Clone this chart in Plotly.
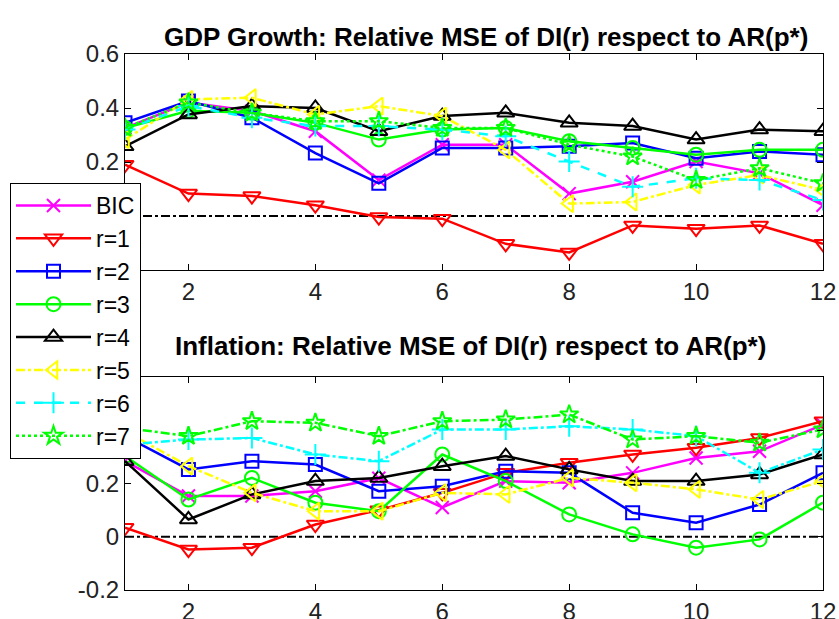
import plotly.graph_objects as go

horizons = list(range(1, 13))
names = ["BIC", "r=1", "r=2", "r=3", "r=4", "r=5", "r=6", "r=7"]

# GDP growth: relative MSE
gdp_bic = [0.326, 0.42, 0.389, 0.314, 0.133, 0.264, 0.264, 0.083, 0.127, 0.202, 0.158, 0.04]
gdp_r1 = [0.19, 0.083, 0.074, 0.04, -0.004, -0.01, -0.103, -0.135, -0.035, -0.047, -0.035, -0.103]
gdp_r2 = [0.345, 0.426, 0.364, 0.233, 0.121, 0.252, 0.252, 0.258, 0.27, 0.214, 0.239, 0.227]
gdp_r3 = [0.326, 0.39, 0.382, 0.345, 0.283, 0.32, 0.326, 0.277, 0.252, 0.227, 0.245, 0.245]
gdp_r4 = [0.258, 0.376, 0.407, 0.40, 0.314, 0.37, 0.382, 0.345, 0.333, 0.283, 0.32, 0.314]
gdp_r5 = [0.283, 0.432, 0.438, 0.376, 0.407, 0.37, 0.245, 0.046, 0.052, 0.115, 0.152, 0.096]
gdp_r6 = [0.32, 0.407, 0.364, 0.333, 0.333, 0.32, 0.295, 0.202, 0.108, 0.14, 0.133, 0.059]
gdp_r7 = [0.326, 0.42, 0.382, 0.351, 0.351, 0.326, 0.326, 0.264, 0.22, 0.133, 0.177, 0.121]

# Inflation: relative MSE
inf_bic = [0.284, 0.153, 0.153, 0.171, 0.22, 0.11, 0.209, 0.203, 0.24, 0.296, 0.321, 0.421]
inf_r1 = [0.034, -0.048, -0.041, 0.046, 0.1, 0.165, 0.24, 0.278, 0.309, 0.334, 0.371, 0.434]
inf_r2 = [0.378, 0.253, 0.284, 0.271, 0.171, 0.19, 0.246, 0.24, 0.09, 0.053, 0.121, 0.24]
inf_r3 = [0.303, 0.14, 0.221, 0.128, 0.096, 0.309, 0.209, 0.084, 0.009, -0.041, -0.01, 0.128]
inf_r4 = [0.284, 0.065, 0.159, 0.209, 0.221, 0.265, 0.303, 0.253, 0.209, 0.209, 0.234, 0.309]
inf_r5 = [0.397, 0.265, 0.165, 0.096, 0.096, 0.165, 0.159, 0.221, 0.203, 0.178, 0.14, 0.209]
inf_r6 = [0.346, 0.365, 0.371, 0.309, 0.284, 0.403, 0.403, 0.415, 0.403, 0.378, 0.24, 0.328]
inf_r7 = [0.409, 0.378, 0.434, 0.428, 0.378, 0.434, 0.44, 0.459, 0.365, 0.378, 0.353, 0.403]

y_ticks = [-0.2, 0, 0.2, 0.4, 0.6]
y_ticklabels = ["-0.2", "0", "0.2", "0.4", "0.6"]
x_ticks = [2, 4, 6, 8, 10, 12]

title_top = "GDP Growth: Relative MSE of DI(r) respect to AR(p*)"
title_bot = "Inflation: Relative MSE of DI(r) respect to AR(p*)"

colors = ["#FF00FF", "#FF0000", "#0000FF", "#00FF00", "#000000", "#FFFF00", "#00FFFF", "#00FF00"]
symbols = ["x-thin", "triangle-down-open", "square-open", "circle-open",
           "triangle-up-open", "triangle-left-open", "cross-thin", "star-open"]
sizes = [13, 15, 13, 14, 15, 15, 15, 14]
dash_top = ["solid", "solid", "solid", "solid", "solid", "dashdot", "dash", "dot"]
dash_bot = ["solid", "solid", "solid", "solid", "solid", "dashdot", "dashdot", "dashdot"]

top_series = [gdp_bic, gdp_r1, gdp_r2, gdp_r3, gdp_r4, gdp_r5, gdp_r6, gdp_r7]
bot_series = [inf_bic, inf_r1, inf_r2, inf_r3, inf_r4, inf_r5, inf_r6, inf_r7]

FONT = "Liberation Sans, Arial, sans-serif"
W, H = 839, 619


def px_x(p):
    return p / W


def px_y(p):
    return 1 - p / H


fig = go.Figure()
for i, name in enumerate(names):
    mk = dict(symbol=symbols[i], size=sizes[i], color=colors[i],
              line=dict(width=2, color=colors[i]))
    fig.add_trace(go.Scatter(x=horizons, y=top_series[i], name=name, mode="lines+markers",
                             legendgroup=name, line=dict(color=colors[i], width=2.5, dash=dash_top[i]),
                             marker=mk, xaxis="x", yaxis="y"))
    fig.add_trace(go.Scatter(x=horizons, y=bot_series[i], name=name, mode="lines+markers",
                             legendgroup=name, showlegend=False,
                             line=dict(color=colors[i], width=2.5, dash=dash_bot[i]),
                             marker=mk, xaxis="x2", yaxis="y2"))

x0, x1 = px_x(125), px_x(823)
top_dom = [px_y(270), px_y(54)]
bot_dom = [px_y(590), px_y(377)]

axis_common = dict(showline=True, linecolor="black", linewidth=1, mirror="ticks",
                   ticks="inside", ticklen=6, tickcolor="black", showgrid=False,
                   zeroline=False, automargin=False,
                   tickfont=dict(family=FONT, size=24, color="#222"))

fig.update_layout(
    width=W, height=H, margin=dict(l=0, r=0, t=0, b=0, autoexpand=False),
    paper_bgcolor="white", plot_bgcolor="white",
    font=dict(family=FONT, color="black"),
    xaxis=dict(domain=[x0, x1], range=[1, 12], tickvals=x_ticks, anchor="y", **axis_common),
    yaxis=dict(domain=top_dom, range=[-0.2, 0.6], tickvals=y_ticks, ticktext=y_ticklabels,
               anchor="x", **axis_common),
    xaxis2=dict(domain=[x0, x1], range=[1, 12], tickvals=x_ticks, anchor="y2", **axis_common),
    yaxis2=dict(domain=bot_dom, range=[-0.2, 0.6], tickvals=y_ticks, ticktext=y_ticklabels,
                anchor="x2", **axis_common),
    legend=dict(x=px_x(10), y=px_y(183), xanchor="left", yanchor="top",
                bgcolor="white", bordercolor="black", borderwidth=1, itemwidth=75,
                font=dict(family=FONT, size=23, color="black"), tracegroupgap=0),
    annotations=[
        dict(text="<b>" + title_top + "</b>", x=px_x(486), y=px_y(20), xref="paper",
             yref="paper", showarrow=False, font=dict(family=FONT, size=26, color="black")),
        dict(text="<b>" + title_bot + "</b>", x=px_x(470), y=px_y(346), xref="paper",
             yref="paper", showarrow=False, font=dict(family=FONT, size=26, color="black")),
    ],
)

fig.add_shape(type="line", xref="x domain", yref="y", x0=0, x1=1, y0=0, y1=0,
              line=dict(color="black", width=2, dash="dashdot"), layer="below")
fig.add_shape(type="line", xref="x2 domain", yref="y2", x0=0, x1=1, y0=0, y1=0,
              line=dict(color="black", width=2, dash="dashdot"), layer="below")

fig.write_html("out.html", config={"displayModeBar": False},
               post_script="document.body.style.margin='0';document.body.style.overflow='hidden';")
